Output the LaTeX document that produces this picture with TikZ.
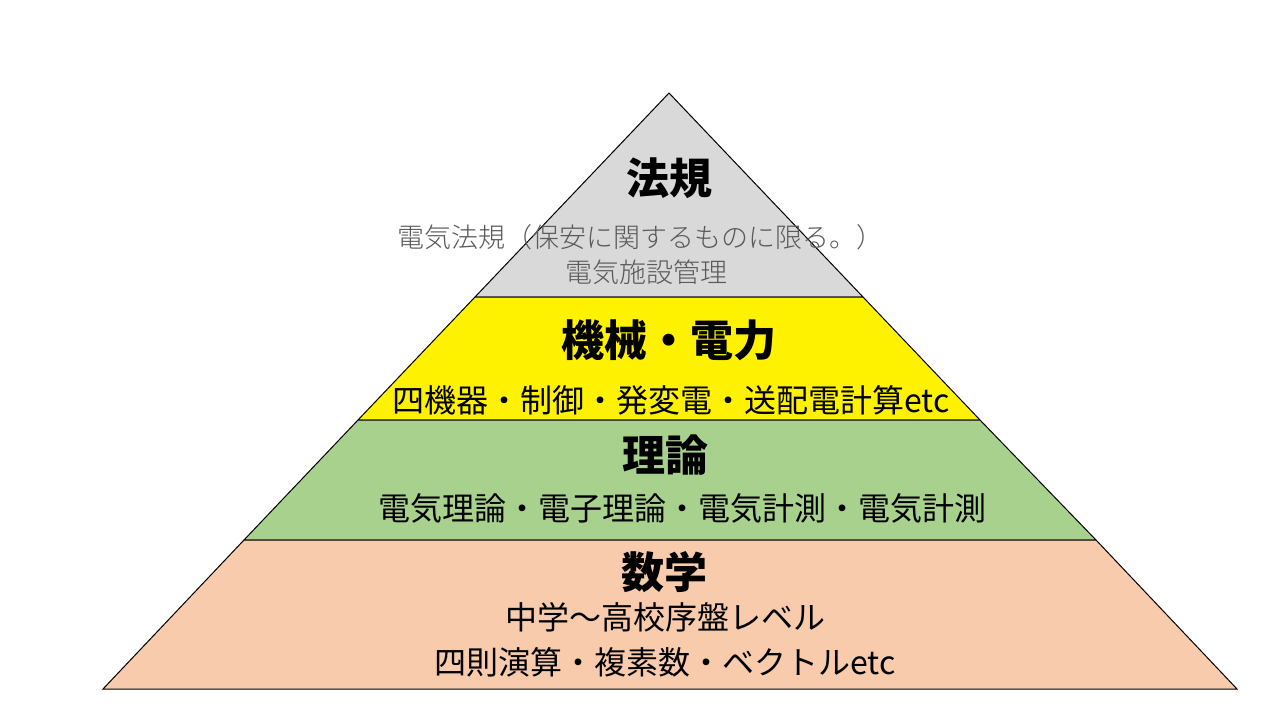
\documentclass[tikz,border=0pt]{standalone}
\usepackage{fontspec}
\setmainfont{Noto Sans CJK JP}
\newfontfamily\jpl{Noto Sans CJK JP Light}
\begin{document}
\begin{tikzpicture}[x=1pt,y=-1pt,
  layer/.style={draw=black,line width=1pt},
  ttl/.style={font=\fontsize{43}{45}\selectfont\bfseries,inner sep=0},
  sub/.style={font=\fontsize{32}{34}\selectfont,inner sep=0},
  gsub/.style={font=\fontsize{27}{30}\selectfont\jpl,inner sep=0,text={rgb,255:red,89;green,89;blue,89}}]
\useasboundingbox (0,0) rectangle (1280,720);
\fill[white] (0,0) rectangle (1280,720);
\fill[layer,fill={rgb,255:red,217;green,217;blue,217}] (669,93) -- (863,297) -- (475,297) -- cycle;
\fill[layer,fill=yellow] (475,297) -- (863,297) -- (980,420) -- (358,420) -- cycle;
\fill[layer,fill={rgb,255:red,169;green,209;blue,142}] (358,420) -- (980,420) -- (1096,540) -- (244,540) -- cycle;
\fill[layer,fill={rgb,255:red,248;green,203;blue,173}] (244,540) -- (1096,540) -- (1237,689) -- (103,689) -- cycle;
\node[ttl] (t1) at (669,178) {法規};
\node[gsub] (s1) at (640,237) {電気法規（保安に関するものに限る。）};
\node[gsub] (s2) at (646,272) {電気施設管理};
\node[ttl] (t2) at (669,340) {機械・電力};
\node[sub] (s3) at (671,400) {四機器・制御・発変電・送配電計算etc};
\node[ttl] (t3) at (665,455) {理論};
\node[sub] (s4) at (682,508) {電気理論・電子理論・電気計測・電気計測};
\node[ttl] (t4) at (664,572) {数学};
\node[sub] (s5) at (665,617) {中学～高校序盤レベル};
\node[sub] (s6) at (665,662) {四則演算・複素数・ベクトルetc};
\end{tikzpicture}
\end{document}
